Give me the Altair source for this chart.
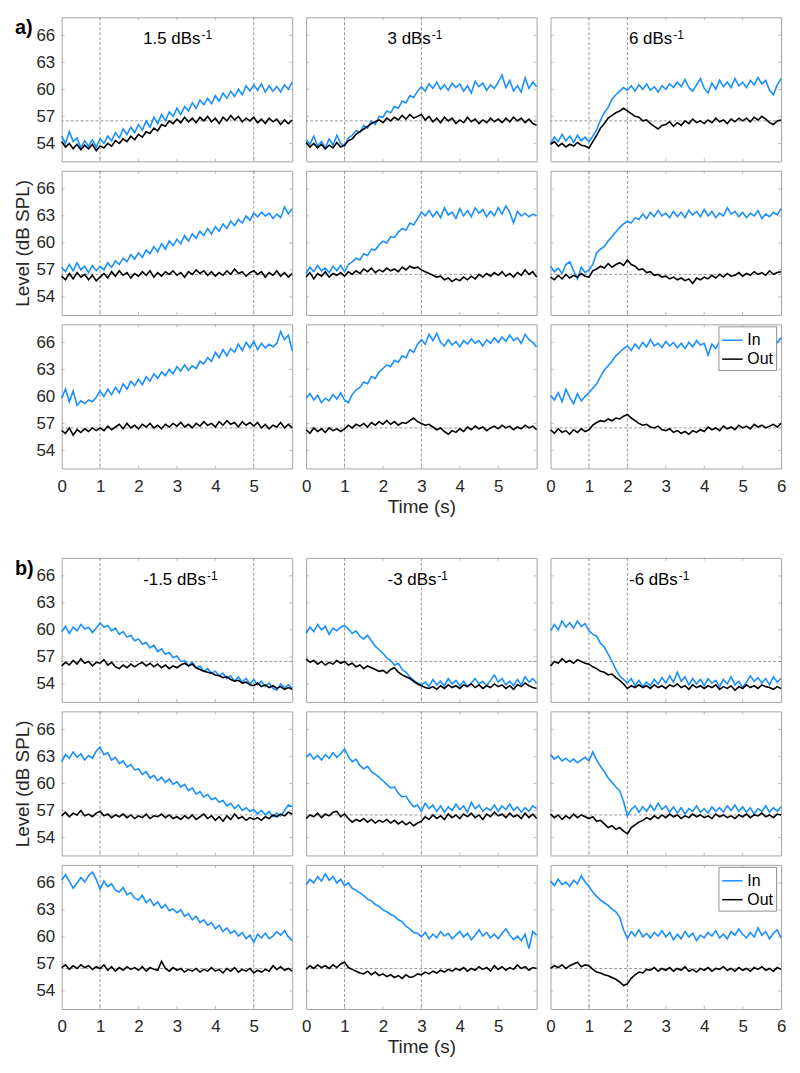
import altair as alt
import pandas as pd

TIME = [round(i * 0.1, 1) for i in range(61)]

# section a) rising ramps
A11_IN = [54.8, 54.0, 55.3, 54.2, 54.6, 53.5, 54.3, 53.7, 54.4, 53.6,
          54.5, 54.0, 54.8, 54.3, 55.2, 54.6, 55.6, 55.0, 55.8, 55.2,
          56.1, 55.5, 56.5, 55.8, 56.9, 56.2, 57.2, 56.5, 57.5, 57.0,
          57.9, 57.2, 58.1, 57.6, 58.5, 57.9, 58.8, 58.3, 59.0, 58.4,
          59.3, 58.7, 59.6, 59.0, 59.8, 59.2, 60.0, 59.4, 60.4, 59.8,
          60.5, 59.9, 60.6, 59.7, 60.4, 59.8, 60.3, 59.7, 60.5, 60.0,
          60.8]
A11_OUT = [54.2, 53.6, 54.0, 53.4, 53.9, 53.3, 53.8, 53.4, 53.9, 53.2,
           53.7, 53.5, 54.0, 53.7, 54.3, 54.0, 54.5, 54.2, 54.8, 54.4,
           55.0, 54.7, 55.3, 55.1, 55.7, 55.4, 56.1, 55.9, 56.5, 56.2,
           56.7, 56.3, 56.9, 56.4, 56.8, 56.3, 56.9, 56.5, 57.0, 56.4,
           56.8, 56.2, 56.9, 56.5, 57.1, 56.6, 57.0, 56.4, 56.8, 56.5,
           56.9, 56.3, 56.7, 56.2, 56.8, 56.4, 56.7, 56.1, 56.6, 56.2,
           56.6]
A21_IN = [57.3, 56.8, 57.6, 56.9, 57.8, 57.0, 57.4, 56.7, 57.5, 56.9,
          57.4, 57.0, 57.8, 57.3, 58.0, 57.6, 58.3, 57.9, 58.7, 58.2,
          58.9, 58.4, 59.2, 58.8, 59.6, 59.0, 59.9, 59.3, 60.2, 59.7,
          60.4, 59.9, 60.8, 60.2, 61.0, 60.5, 61.3, 60.8, 61.6, 61.0,
          61.8, 61.3, 62.1, 61.6, 62.4, 61.9, 62.6, 62.2, 63.0, 62.5,
          63.3, 62.9, 63.4, 63.0, 63.3, 62.7, 63.2, 62.8, 64.0, 63.2,
          63.8]
A21_OUT = [56.3, 55.9, 56.6, 56.0, 56.7, 56.2, 56.5, 55.9, 56.4, 55.8,
           56.2, 56.6, 56.1, 56.8, 56.3, 56.9, 56.4, 56.7, 56.1, 56.6,
           56.3, 56.8, 56.4, 56.9, 56.2, 56.7, 56.3, 56.8, 56.5, 56.9,
           56.4, 56.7, 56.2, 56.8, 56.5, 57.0, 56.6, 56.9, 56.4, 56.8,
           56.3, 56.7, 56.4, 56.9, 56.5, 57.1, 56.6, 56.8, 56.3, 56.7,
           56.9, 56.5, 56.8, 56.2, 56.7, 56.4, 56.9, 56.3, 56.7, 56.2,
           56.6]
A31_IN = [59.8, 60.8, 59.4, 60.6, 59.0, 59.5, 59.2, 59.6, 59.4, 59.9,
          60.6, 60.0, 60.8, 60.2, 61.0, 60.4, 61.4, 60.8, 61.7, 61.2,
          61.9, 61.3, 62.2, 61.7, 62.5, 62.0, 62.7, 62.3, 63.0, 62.5,
          63.3, 62.8, 63.5, 62.9, 63.4, 63.1, 63.9, 63.6, 64.3, 63.9,
          64.9, 64.3, 65.2, 64.5, 65.3, 64.9, 65.8, 65.1, 66.0, 65.4,
          66.1, 65.2, 65.9, 65.4, 65.8, 65.5, 65.9, 67.2, 66.3, 66.8,
          65.1]
A31_OUT = [56.2, 55.9, 56.5, 55.7, 56.3, 56.0, 56.4, 56.1, 56.5, 56.2,
           56.5, 56.2, 56.7, 56.3, 56.6, 56.9, 56.4, 57.0, 56.5, 56.8,
           56.4, 56.9, 56.6, 57.0, 56.5, 56.8, 56.4, 56.9, 56.6, 57.0,
           56.7, 57.1, 56.6, 56.9, 56.5, 57.0, 56.7, 57.2, 56.8, 57.0,
           56.6, 57.2, 56.8, 57.3, 56.9, 57.1, 56.6, 57.2, 56.8, 57.1,
           56.7, 57.1, 56.5, 56.9, 56.4, 56.8, 56.6, 57.1, 56.5, 56.9,
           56.5]
A12_IN = [54.4, 53.9, 54.8, 53.7, 54.2, 53.5, 54.5, 53.8, 54.9, 54.0,
          53.7, 54.6, 54.9, 55.4, 55.2, 56.0, 55.7, 56.5, 56.1, 57.0,
          56.9, 57.6, 57.4, 58.1, 57.9, 58.7, 58.5, 59.3, 59.1, 59.8,
          60.3, 59.8, 60.6, 60.1, 60.8, 60.0, 60.5, 59.9, 60.7, 60.2,
          60.6, 59.8, 60.4, 59.6, 60.9, 60.3, 60.7, 59.9, 60.5, 60.1,
          60.8, 61.6, 60.2, 61.0, 59.8, 60.4, 59.7, 61.3, 60.1, 60.8,
          60.3]
A12_OUT = [54.1, 53.6, 54.0, 53.5, 53.9, 53.4, 53.8, 53.5, 54.1, 53.6,
           53.8, 54.3, 54.5, 55.0, 55.3, 55.6, 55.9, 56.2, 56.4, 56.6,
           56.3, 56.8, 56.5, 56.9, 56.6, 57.1, 56.7, 57.2, 56.8, 57.0,
           57.2, 56.6, 57.0, 56.4, 56.8, 56.3, 56.9, 56.5, 56.8, 56.2,
           56.6, 56.3, 56.9, 56.4, 56.7, 56.2, 56.6, 56.3, 56.8, 56.4,
           56.7, 56.3, 56.8, 56.4, 56.9, 56.5, 56.8, 56.3, 56.7, 56.2,
           56.0]
A22_IN = [56.6, 57.3, 56.8, 57.5, 56.9, 57.2, 56.7, 57.4, 56.9, 57.5,
          56.8, 57.6, 57.9, 58.3, 58.1, 58.8, 58.6, 59.3, 59.2, 59.8,
          60.2, 60.0, 60.7, 60.6, 61.2, 61.6, 61.4, 62.2, 62.0, 62.7,
          63.4, 63.0, 63.6, 62.9, 63.5, 62.8, 63.9, 63.1, 63.4, 62.7,
          63.8, 63.0, 63.6, 62.9, 63.9, 63.3, 63.7, 62.9, 63.5, 63.0,
          63.9, 63.2, 64.1, 63.4, 62.2, 63.5, 63.0, 63.3, 62.9, 63.2,
          63.0]
A22_OUT = [56.2, 56.7, 56.0, 56.6, 56.3, 56.8, 56.2, 56.6, 56.4, 56.7,
           56.3, 56.8, 56.5, 56.9, 56.6, 57.1, 56.8, 57.2, 56.7, 57.0,
           56.8, 57.2, 56.9, 57.1, 56.8, 57.3, 57.0, 57.4, 57.2, 57.3,
           57.0, 56.8, 56.6, 56.4, 56.2, 56.3, 55.9, 56.1, 55.7, 56.0,
           55.8, 56.2, 55.9, 56.3, 56.0, 56.5, 56.2, 56.6, 56.3, 56.7,
           56.4, 56.8, 56.3, 56.6, 56.2, 56.7, 56.4, 57.0, 56.5, 56.8,
           56.2]
A32_IN = [59.8, 60.3, 59.6, 60.1, 59.3, 59.8, 59.5, 60.2, 59.7, 60.4,
          59.6, 59.3, 60.2, 60.7, 61.0, 61.6, 61.4, 62.2, 62.0, 62.7,
          63.1, 63.5, 63.3, 64.0, 63.8, 64.5, 64.3, 65.2, 64.9, 65.8,
          66.3, 65.8, 66.9, 66.2, 67.0, 66.0, 65.6, 66.3, 65.7, 66.1,
          65.5, 66.2, 65.8, 66.4, 65.9, 66.2, 65.6, 66.3, 65.9, 66.5,
          66.0, 66.6, 66.1, 66.8, 66.2, 66.5, 65.9, 66.9, 66.3, 66.0,
          65.5]
A32_OUT = [56.3, 55.9, 56.5, 56.1, 56.4, 56.0, 56.5, 56.2, 56.4, 56.1,
           56.4, 56.8, 56.5, 56.9, 56.7, 57.0, 56.6, 57.1, 56.8, 57.2,
           56.9, 57.3, 56.9, 57.2, 56.8, 57.1, 57.0, 57.3, 57.6, 57.2,
           57.0, 56.8, 56.9, 56.6, 56.3, 56.5, 56.1, 55.8, 56.2, 56.0,
           56.4, 56.1, 56.6, 56.3, 56.7, 56.4, 56.6, 56.2, 56.5, 56.7,
           56.4, 56.8, 56.5, 56.7, 56.3, 56.6, 56.4, 56.8, 56.5, 56.7,
           56.3]
A13_IN = [54.0, 54.7, 54.2, 55.0, 54.3, 54.8, 54.1, 54.9, 54.3, 54.7,
          54.2, 54.8, 55.5, 56.6, 57.4, 58.0, 58.9, 59.4, 59.8, 60.2,
          59.9, 60.4, 59.8, 60.5, 60.0, 60.6, 59.9, 60.3, 59.7, 60.4,
          60.0, 60.6, 60.2, 60.8, 60.3, 61.1, 60.2, 59.8, 60.5, 61.2,
          60.1, 59.6, 60.7, 60.0, 61.0, 60.3, 60.8, 60.2, 61.2, 60.4,
          60.8, 60.2, 61.0, 60.5, 61.3, 60.6, 61.0, 59.9, 59.4, 60.5,
          61.2]
A13_OUT = [53.9, 54.2, 53.7, 54.0, 53.6, 53.9, 53.7, 54.1, 53.8, 53.7,
           53.5, 54.2, 54.9, 55.7, 56.2, 56.8, 57.1, 57.4, 57.6, 57.9,
           57.6, 57.3, 57.0, 56.9, 56.5, 56.6, 56.2, 55.9, 55.6, 56.0,
           56.1, 56.4, 55.9, 56.3, 56.0, 56.5, 56.2, 56.7, 56.3, 56.5,
           56.2, 56.6, 56.3, 56.8, 56.4, 56.6, 56.2, 56.7, 56.4, 56.8,
           56.5, 56.8, 56.4, 56.9, 56.6, 57.0, 56.7, 56.3, 56.1, 56.5,
           56.6]
A23_IN = [57.4, 56.8, 57.2, 56.6, 57.6, 57.9, 56.9, 56.0, 57.3, 56.7,
          57.0, 57.6, 58.9, 59.3, 59.6, 60.2, 60.7, 61.2, 61.7, 62.1,
          62.4, 62.2, 62.8, 62.6, 63.2, 62.7, 63.4, 62.9, 63.6, 63.0,
          63.3, 62.8, 63.5, 62.9, 63.4, 62.8, 63.6, 63.1, 63.5, 62.9,
          63.7, 63.0, 63.5, 62.8, 63.3, 63.0, 63.9, 63.2, 63.5, 62.9,
          63.4, 62.8, 63.3, 63.0, 63.6, 62.7, 63.2, 62.9, 63.4, 63.1,
          63.8]
A23_OUT = [56.2, 55.9, 56.4, 56.0, 56.5, 56.1, 56.4, 56.2, 56.6, 56.3,
           56.2, 56.9, 57.1, 57.4, 57.2, 57.7, 57.3, 57.6, 57.8, 57.5,
           58.1, 57.6, 57.4, 57.0, 57.1, 56.7, 56.8, 56.4, 56.5, 56.2,
           56.3, 56.0, 56.2, 55.9, 56.1, 55.8, 56.0, 55.5, 56.1, 55.9,
           56.2, 56.0, 56.4, 56.1, 56.5, 56.2, 56.6, 56.3, 56.4, 56.7,
           56.3, 56.6, 56.4, 56.8, 56.5, 56.7, 56.4, 56.9, 56.5, 56.7,
           56.8]
A33_IN = [60.1, 59.6, 60.4, 59.4, 60.8, 59.9, 59.2, 60.3, 59.5, 60.0,
          60.4, 60.9, 61.4, 62.2, 62.9, 63.4, 63.9, 64.5, 64.9, 65.3,
          65.6, 65.1, 65.8, 65.3, 66.0, 65.5, 66.3, 65.6, 65.9, 65.4,
          66.1, 65.6, 66.0, 65.4, 65.9, 65.3, 66.0, 65.5, 66.2, 65.7,
          65.9, 64.6, 65.8, 65.3, 66.1, 65.5, 66.0, 65.4, 66.2, 65.6,
          66.0, 65.5, 66.2, 65.6, 65.9, 65.3, 65.8, 66.1, 65.5, 66.0,
          66.5]
A33_OUT = [56.3, 55.9, 56.4, 56.0, 56.2, 55.8, 56.3, 56.0, 56.4, 56.1,
           56.3, 56.8, 57.1, 57.3, 57.2, 57.5, 57.3, 57.6, 57.5, 57.8,
           58.0, 57.6, 57.3, 57.0, 56.8, 56.9, 56.6, 56.5, 56.7, 56.3,
           56.2, 56.4, 56.0, 56.2, 55.9, 56.1, 55.8, 56.2, 56.0, 56.3,
           56.1, 56.6, 56.3, 56.5, 56.2, 56.7, 56.4, 56.6, 56.3, 56.8,
           56.5, 56.7, 56.4, 56.9, 56.6, 56.8, 56.5, 56.7, 56.9, 56.6,
           57.0]

# section b) falling ramps
B11_IN = [59.8, 60.4, 59.6, 60.3, 59.9, 60.6, 60.1, 60.3, 59.7, 60.2,
          60.8, 60.3, 60.5, 59.9, 60.2, 59.5, 59.8, 59.2, 59.4, 58.8,
          59.0, 58.4, 58.6, 58.0, 58.3, 57.6, 57.9, 57.3, 57.5, 56.9,
          57.1, 56.5, 56.6, 56.0, 56.4, 55.8, 56.0, 55.4, 55.7, 55.2,
          55.4, 54.9, 55.2, 54.6, 54.9, 54.3, 54.8, 54.2, 54.6, 54.0,
          54.5, 53.9, 54.3, 53.7, 54.1, 53.5, 53.3, 54.0, 53.6, 53.9,
          53.5]
B11_OUT = [56.0, 56.4, 56.1, 56.6, 56.2, 56.8, 56.3, 56.5, 56.0, 56.4,
           56.3, 56.7, 56.1, 56.4, 55.9, 55.7, 56.1, 55.8, 56.2, 55.9,
           56.2, 56.4, 56.0, 56.3, 55.9, 56.2, 55.8, 56.1, 55.7, 56.0,
           55.8, 56.1, 56.3, 56.0, 56.2, 55.8, 55.6, 55.4, 55.3, 55.2,
           55.0, 54.9, 54.7, 54.8, 54.5, 54.3, 54.4, 54.1, 54.2, 53.9,
           53.8, 54.1, 53.7, 53.9, 53.6, 53.8, 53.5, 53.7, 53.4, 53.6,
           53.4]
B21_IN = [62.4, 63.2, 62.8, 63.5, 62.9, 63.3, 62.6, 63.1, 62.8, 63.6,
          64.0, 63.2, 63.4, 62.6, 62.9, 62.2, 62.5, 61.8, 62.1, 61.5,
          61.6, 61.0, 61.3, 60.6, 60.9, 60.3, 60.7, 60.1, 60.5, 59.9,
          60.2, 59.6, 59.9, 59.2, 59.5, 58.8, 59.1, 58.5, 58.8, 58.2,
          58.4, 57.9, 58.1, 57.5, 57.8, 57.2, 57.6, 57.0, 57.3, 56.9,
          57.1, 56.6, 57.0, 56.5, 56.9, 56.3, 56.7, 56.4, 57.0, 57.6,
          57.4]
B21_OUT = [56.4, 56.8, 56.3, 56.7, 56.5, 57.0, 56.4, 56.6, 56.3, 56.7,
           56.9, 56.4, 56.6, 56.2, 56.5, 56.3, 56.6, 56.2, 56.5, 56.1,
           56.4, 56.2, 56.6, 56.1, 56.4, 56.3, 56.6, 56.2, 56.5, 56.1,
           56.3, 56.0, 56.4, 56.1, 56.5, 56.0, 56.3, 56.6, 56.1, 56.4,
           55.9, 56.3, 55.8, 56.4, 56.0, 56.6, 56.1, 56.3, 55.9, 56.2,
           56.0, 56.2, 55.9, 56.3, 56.1, 56.5, 56.3, 56.6, 56.4, 56.8,
           56.6]
B31_IN = [66.3, 66.9, 66.2, 65.4, 66.0, 66.6, 66.1, 66.8, 67.2, 66.4,
          65.3, 66.2, 65.6, 65.9, 65.2, 65.0, 65.5, 64.7, 64.9, 64.3,
          64.1, 64.6, 63.8, 64.2, 63.5, 63.9, 63.2, 63.6, 62.9, 63.1,
          62.7, 63.0, 62.3, 62.6, 61.9, 62.3, 61.6, 61.9, 61.3, 61.6,
          60.9, 61.3, 60.6, 61.0, 60.4, 60.7, 60.1, 60.5, 59.8, 60.2,
          59.4, 60.3, 59.9, 60.4, 59.8, 60.1, 60.6, 60.2, 60.7, 60.0,
          59.6]
B31_OUT = [56.6, 56.9, 56.4, 56.8, 56.5, 56.9, 56.6, 56.8, 56.4, 56.7,
           56.5, 56.9, 56.3, 56.7, 56.2, 56.6, 56.3, 56.7, 56.4, 56.6,
           56.3, 56.7, 56.2, 56.6, 56.4, 56.3, 57.3, 56.5, 56.2, 56.6,
           56.3, 56.5, 56.1, 56.4, 56.2, 56.5, 56.1, 56.4, 56.2, 56.6,
           56.2, 56.4, 56.0, 56.5, 56.2, 56.6, 56.1, 56.4, 56.2, 56.5,
           56.0, 56.3, 56.1, 56.4, 56.2, 56.8, 56.4, 56.7, 56.3, 56.5,
           56.2]
B12_IN = [59.6, 60.3, 59.8, 60.6, 60.0, 60.4, 59.5, 60.2, 59.9, 60.3,
          60.5, 60.1, 59.6, 59.9, 59.3, 59.0, 59.4, 58.8, 58.2, 57.8,
          57.4, 56.9, 56.6, 56.1, 56.3, 55.6, 55.3, 54.8, 54.4, 54.1,
          53.9, 54.2, 53.7, 54.5, 53.9, 54.3, 53.8, 54.6, 54.0, 54.4,
          53.8, 54.3, 53.7, 54.1, 54.6, 54.0, 54.3, 53.8, 54.4, 55.0,
          54.2, 54.6, 53.9, 54.3, 53.8, 54.5, 53.9, 54.8, 54.2, 54.6,
          54.1]
B12_OUT = [56.8, 56.4, 56.6, 56.2, 56.5, 56.1, 56.4, 56.2, 56.6, 56.3,
           56.5, 56.1, 56.3, 55.9, 56.1, 55.7, 56.0, 55.8, 55.6, 55.4,
           55.5, 55.2, 55.6, 55.8, 55.3, 55.0, 54.8, 54.6, 54.3, 54.0,
           53.8, 53.6, 53.5, 53.7, 53.4, 53.8, 53.5, 53.9, 53.6, 53.8,
           53.5, 53.9, 53.7, 54.0, 53.6, 53.9, 53.5, 53.8, 53.6, 54.0,
           53.7, 53.9, 53.5, 53.8, 53.4, 53.9, 53.7, 54.1, 53.8, 53.6,
           53.5]
B22_IN = [62.9, 63.3, 62.7, 63.1, 62.6, 63.2, 62.8, 63.4, 62.9, 63.3,
          63.8, 63.0, 62.4, 62.7, 62.0, 61.6, 61.9, 61.3, 61.0, 60.7,
          60.3, 59.9, 59.5, 59.6, 58.9, 58.5, 58.6, 57.9, 57.4, 57.6,
          56.9, 57.8, 57.2, 57.6, 56.9, 57.5, 56.8, 57.4, 57.0, 57.7,
          57.1, 57.5, 56.8, 57.9, 57.2, 57.6, 56.9, 57.3, 57.0, 57.6,
          56.9, 57.5, 57.1, 57.7, 57.0, 57.4, 56.8, 57.3, 56.9, 57.5,
          57.2]
B22_OUT = [56.1, 56.5, 56.3, 56.7, 56.2, 56.6, 56.4, 56.8, 56.9, 56.3,
           56.6, 56.1, 55.7, 56.0, 55.8, 56.1, 55.7, 56.0, 55.6, 55.9,
           55.7, 56.0, 55.6, 55.9, 55.5, 55.8, 55.4, 55.7, 55.3, 55.6,
           55.8, 56.3, 56.0, 56.5, 56.1, 56.4, 56.0, 56.6, 56.2, 56.5,
           56.1, 56.6, 56.3, 56.7, 56.2, 56.5, 56.0, 56.6, 56.3, 56.8,
           56.4, 56.6, 56.2, 56.7, 56.3, 56.5, 56.1, 56.7, 56.2, 56.6,
           56.1]
B32_IN = [65.8, 66.4, 66.0, 66.7, 66.2, 67.0, 66.3, 66.7, 66.0, 66.4,
          65.7, 66.0, 65.4, 65.2, 64.9, 64.6, 64.2, 64.0, 63.6, 63.4,
          63.0, 62.8, 62.5, 62.3, 61.9, 61.7, 61.2, 60.9, 60.5, 60.4,
          60.0, 60.5, 59.8, 60.3, 59.9, 60.6, 60.1, 60.4, 59.8, 60.2,
          60.6, 60.0, 60.4, 59.7, 60.2, 60.8, 60.1, 60.5, 59.9, 60.3,
          59.8, 60.4, 60.9, 60.2, 59.7, 60.1, 59.6, 60.3, 58.7, 60.6,
          60.2]
B32_OUT = [56.4, 56.8, 56.5, 56.9, 56.6, 56.8, 56.5, 56.9, 56.6, 57.0,
           57.2, 56.6, 56.4, 56.2, 56.0, 55.9, 56.2, 55.8, 56.1, 55.7,
           55.9, 55.6, 55.8, 55.5, 55.7, 55.4, 55.8, 55.5, 55.6, 55.9,
           55.8, 56.1, 55.9, 56.2, 56.0, 56.3, 56.1, 56.4, 56.2, 56.5,
           56.3, 56.6, 56.2, 56.5, 56.3, 56.7, 56.4, 56.6, 56.2, 56.8,
           56.4, 56.7, 56.3, 56.6, 56.4, 56.9, 56.5, 56.7, 56.3, 56.6,
           56.5]
B13_IN = [59.9, 60.6, 60.0, 61.0, 60.3, 60.8, 60.2, 61.0, 60.4, 60.7,
          59.9, 59.5, 59.3, 58.5, 58.1, 57.3, 56.5, 55.6, 54.9, 54.5,
          54.1, 54.6, 53.8, 54.4, 53.7, 54.2, 53.8, 54.5, 54.0, 54.7,
          54.1, 54.9, 54.2, 55.3, 54.3, 54.8, 53.9, 54.6, 54.0, 54.5,
          53.8, 54.6, 54.1, 54.4, 53.7, 54.5, 54.0, 54.8, 53.9, 54.3,
          53.6, 54.2, 54.9, 54.3, 54.7, 54.1, 54.6, 53.9, 54.8, 54.2,
          54.6]
B13_OUT = [56.0, 56.5, 56.3, 56.8, 56.4, 56.6, 56.3, 56.7, 56.5, 56.3,
           56.2, 55.9, 55.7, 55.4, 55.3, 55.0, 55.1, 54.7, 54.4, 54.0,
           53.5, 53.8, 53.6, 53.9, 53.6, 53.8, 53.5, 53.9, 53.6, 53.8,
           53.5, 53.9, 53.7, 54.0, 53.6, 53.8, 53.4, 53.9, 53.6, 53.8,
           53.5, 53.8, 53.6, 53.9, 53.4, 53.7, 53.5, 53.8, 53.3, 53.7,
           53.5, 53.9, 53.6, 53.8, 53.5, 53.9, 53.7, 53.6, 53.4, 53.7,
           53.5]
B23_IN = [63.2, 62.7, 63.0, 62.5, 62.8, 62.4, 62.7, 62.3, 62.6, 62.9,
          62.5, 63.5, 62.6, 61.9, 61.3, 60.6, 60.1, 59.6, 59.2, 58.0,
          56.4, 57.1, 57.5, 56.8, 57.4, 56.9, 57.6, 57.0, 57.8, 57.1,
          57.5, 56.8, 57.4, 56.7, 57.3, 56.6, 57.2, 56.9, 57.5, 56.8,
          57.2, 56.7, 57.4, 56.9, 57.3, 56.8, 57.5, 57.0, 57.6, 56.9,
          57.4, 56.8, 57.3, 56.6, 57.2, 56.9, 57.5, 56.8, 57.3, 56.9,
          57.4]
B23_OUT = [56.6, 56.2, 56.5, 56.0, 56.4, 56.1, 56.6, 56.2, 56.5, 56.3,
           56.1, 56.3, 55.8, 55.9, 55.5, 55.1, 55.3, 54.9, 55.1, 54.7,
           54.4, 55.1, 55.4, 55.7, 55.9, 56.2, 56.0, 56.4, 56.1, 56.5,
           56.2, 56.6, 56.3, 56.5, 56.1, 56.4, 56.2, 56.6, 56.3, 56.5,
           56.2, 56.4, 56.1, 56.6, 56.3, 56.5, 56.2, 56.4, 56.1, 56.5,
           56.3, 56.6, 56.2, 56.5, 56.4, 56.7, 56.3, 56.5, 56.2, 56.6,
           56.5]
B33_IN = [66.2, 65.7, 66.4, 65.8, 66.1, 65.6, 66.3, 65.9, 66.8, 66.1,
          65.6, 65.0, 64.5, 64.1, 63.8, 63.5, 63.1, 62.8, 62.2, 60.8,
          59.8, 60.6, 60.1, 60.8, 60.0, 60.4, 59.9, 60.5, 60.1, 60.7,
          60.0, 60.5, 59.7, 60.3, 59.8, 60.6, 60.0, 60.4, 59.6, 60.2,
          59.9, 60.5, 60.1, 60.7, 59.9, 60.3, 59.8, 60.6, 60.2, 60.9,
          60.3, 59.9, 60.5, 60.0, 61.0, 60.2, 60.6, 59.8, 60.4, 60.8,
          59.9]
B33_OUT = [56.5, 56.8, 56.6, 56.9, 56.5, 56.8, 57.0, 57.2, 56.7, 56.9,
           56.8, 56.4, 56.1, 56.0, 55.8, 55.7, 55.5, 55.3, 55.0, 54.6,
           54.8, 55.4, 55.8, 56.1, 56.0, 56.4, 56.3, 56.6, 56.2, 56.5,
           56.3, 56.6, 56.2, 56.5, 56.3, 56.7, 56.2, 56.4, 56.1, 56.5,
           56.3, 56.6, 56.2, 56.5, 56.4, 56.7, 56.3, 56.5, 56.2, 56.6,
           56.3, 56.5, 56.2, 56.6, 56.4, 56.7, 56.3, 56.5, 56.2, 56.6,
           56.4]

SERIES_IN = {"a": [[A11_IN, A12_IN, A13_IN], [A21_IN, A22_IN, A23_IN], [A31_IN, A32_IN, A33_IN]],
             "b": [[B11_IN, B12_IN, B13_IN], [B21_IN, B22_IN, B23_IN], [B31_IN, B32_IN, B33_IN]]}
SERIES_OUT = {"a": [[A11_OUT, A12_OUT, A13_OUT], [A21_OUT, A22_OUT, A23_OUT], [A31_OUT, A32_OUT, A33_OUT]],
              "b": [[B11_OUT, B12_OUT, B13_OUT], [B21_OUT, B22_OUT, B23_OUT], [B31_OUT, B32_OUT, B33_OUT]]}

RATES = {"a": ["1.5", "3", "6"], "b": ["-1.5", "-3", "-6"]}
SECTION_LABELS = {"a": "a)", "b": "b)"}
MARKER_TIMES = [[1, 5], [1, 3], [1, 2]]
REF_LEVEL = [56.5]
Y_TICKS = [54, 57, 60, 63, 66]
X_TICKS_SHORT = [0, 1, 2, 3, 4, 5]
X_TICKS_FULL = [0, 1, 2, 3, 4, 5, 6]
SERIES_NAMES = ["In", "Out"]

# ---------------- styling ----------------
FONT = "Liberation Sans"
BLUE = "#1a8fff"
TEXT_COL = "#262626"
GRID_COL = "#8a8a8a"
BOX_COL = "#a3a3a3"
W, H = 232, 145
SPACER_H = 71
TICK_FS = 17
TITLE_FS = 19
LABEL_FS = 17
TICK_LEN = 3

ARIAL_W = {"0": 556, "1": 556, "2": 556, "3": 556, "4": 556, "5": 556, "6": 556,
           ".": 278, " ": 278, "-": 333, "d": 556, "B": 667, "s": 500}


def text_width(s, size):
    return sum(ARIAL_W.get(ch, 556) for ch in s) / 1000.0 * size


XS = alt.Scale(domain=[0, 6], nice=False, zero=False)
YS = alt.Scale(domain=[52, 68], nice=False, zero=False)
CS = alt.Scale(domain=SERIES_NAMES, range=[BLUE, "black"])


def make_panel(sec, r, c):
    vin = SERIES_IN[sec][r][c]
    vout = SERIES_OUT[sec][r][c]
    df_in = pd.DataFrame({"t": TIME, "v": vin, "s": "In"})
    df_out = pd.DataFrame({"t": TIME, "v": vout, "s": "Out"})

    if r == 2:
        xaxis = alt.Axis(values=X_TICKS_FULL if c == 2 else X_TICKS_SHORT,
                         labelFontSize=TICK_FS, labelColor=TEXT_COL, labelFont=FONT,
                         domain=False, ticks=False, tickSize=0, grid=False, labelPadding=10,
                         labelFlush=False,
                         titleFontSize=TITLE_FS, titleFontWeight="normal", titleColor=TEXT_COL,
                         titleFont=FONT, titlePadding=3)
        xtitle = "Time (s)" if c == 1 else None
    else:
        xaxis = None
        xtitle = None
    if c == 0:
        yaxis = alt.Axis(values=Y_TICKS, labelFontSize=TICK_FS, labelColor=TEXT_COL, labelFont=FONT,
                         domain=False, ticks=False, tickSize=0, grid=False, labelPadding=7,
                         titleFontSize=TITLE_FS, titleFontWeight="normal", titleColor=TEXT_COL,
                         titleFont=FONT, titlePadding=3)
        ytitle = "Level (dB SPL)" if r == 1 else None
    else:
        yaxis = None
        ytitle = None

    x_enc = alt.X("t:Q", scale=XS, axis=xaxis, title=xtitle)
    y_enc = alt.Y("v:Q", scale=YS, axis=yaxis, title=ytitle)

    show_legend = (r == 2 and c == 2)
    if show_legend:
        legend = alt.Legend(orient="none", legendX=169, legendY=2, title=None,
                            fillColor="white", strokeColor="#909090", padding=3,
                            labelFontSize=16, labelFont=FONT, labelColor="black",
                            symbolType="stroke", symbolSize=420, symbolStrokeWidth=1.5,
                            rowPadding=0, labelOffset=4)
    else:
        legend = None
    c_enc = alt.Color("s:N", scale=CS, legend=legend)

    hrule = alt.Chart(pd.DataFrame({"v": REF_LEVEL})).mark_rule(
        color=GRID_COL, strokeDash=[3, 2], strokeWidth=0.9
    ).encode(y=y_enc)
    vrule = alt.Chart(pd.DataFrame({"t": MARKER_TIMES[c]})).mark_rule(
        color=GRID_COL, strokeDash=[3, 2], strokeWidth=0.9
    ).encode(x=x_enc)

    # inward box ticks (MATLAB style) on all four sides
    ytick_df = pd.DataFrame({"v": Y_TICKS})
    xtick_df = pd.DataFrame({"t": X_TICKS_FULL[1:-1]})
    tick_style = dict(color=BOX_COL, thickness=1, size=TICK_LEN)
    yt_left = alt.Chart(ytick_df).mark_tick(**tick_style).encode(y=y_enc, x=alt.value(TICK_LEN / 2))
    yt_right = alt.Chart(ytick_df).mark_tick(**tick_style).encode(y=y_enc, x=alt.value(W - TICK_LEN / 2))
    xt_bottom = alt.Chart(xtick_df).mark_tick(**tick_style).encode(x=x_enc, y=alt.value(H - TICK_LEN / 2))
    xt_top = alt.Chart(xtick_df).mark_tick(**tick_style).encode(x=x_enc, y=alt.value(TICK_LEN / 2))

    line_in = alt.Chart(df_in).mark_line(strokeWidth=1.6).encode(x=x_enc, y=y_enc, color=c_enc)
    line_out = alt.Chart(df_out).mark_line(strokeWidth=1.6).encode(x=x_enc, y=y_enc, color=c_enc)
    layers = [hrule, vrule, yt_left, yt_right, xt_bottom, xt_top, line_in, line_out]

    if r == 0:
        main = RATES[sec][c] + " dBs"
        x0 = 79 if c == 2 else 82
        title_main = alt.Chart(pd.DataFrame({"label": [main]})).mark_text(
            align="left", baseline="alphabetic", fontSize=LABEL_FS, font=FONT, color="black"
        ).encode(text="label:N", x=alt.value(x0), y=alt.value(27))
        title_sup = alt.Chart(pd.DataFrame({"label": ["-1"]})).mark_text(
            align="left", baseline="alphabetic", fontSize=12, font=FONT, color="black"
        ).encode(text="label:N", x=alt.value(x0 + text_width(main, LABEL_FS) + 1), y=alt.value(22))
        layers += [title_main, title_sup]
        if c == 0:
            sec_label = alt.Chart(pd.DataFrame({"label": [SECTION_LABELS[sec]]})).mark_text(
                align="left", baseline="alphabetic", fontSize=20, fontWeight="bold", font=FONT,
                color="black"
            ).encode(text="label:N", x=alt.value(-47), y=alt.value(17))
            layers.append(sec_label)

    return alt.layer(*layers).properties(width=W, height=H)


def make_spacer():
    return alt.Chart(pd.DataFrame({"label": [""]})).mark_text().encode(
        text="label:N", x=alt.value(0), y=alt.value(0)
    ).properties(width=W, height=SPACER_H, view=alt.ViewBackground(strokeOpacity=0))


cells = []
for sec in ["a", "b"]:
    for r in range(3):
        for c in range(3):
            cells.append(make_panel(sec, r, c))
    if sec == "a":
        cells += [make_spacer() for _ in range(3)]

chart = alt.concat(*cells, columns=3, spacing={"row": 9.5, "column": 14},
                   bounds="flush", align="each") \
    .resolve_scale(color="independent") \
    .configure(font=FONT) \
    .configure_view(stroke=BOX_COL, strokeWidth=1)

chart.save("out.html", embed_options={"renderer": "svg", "actions": False})
